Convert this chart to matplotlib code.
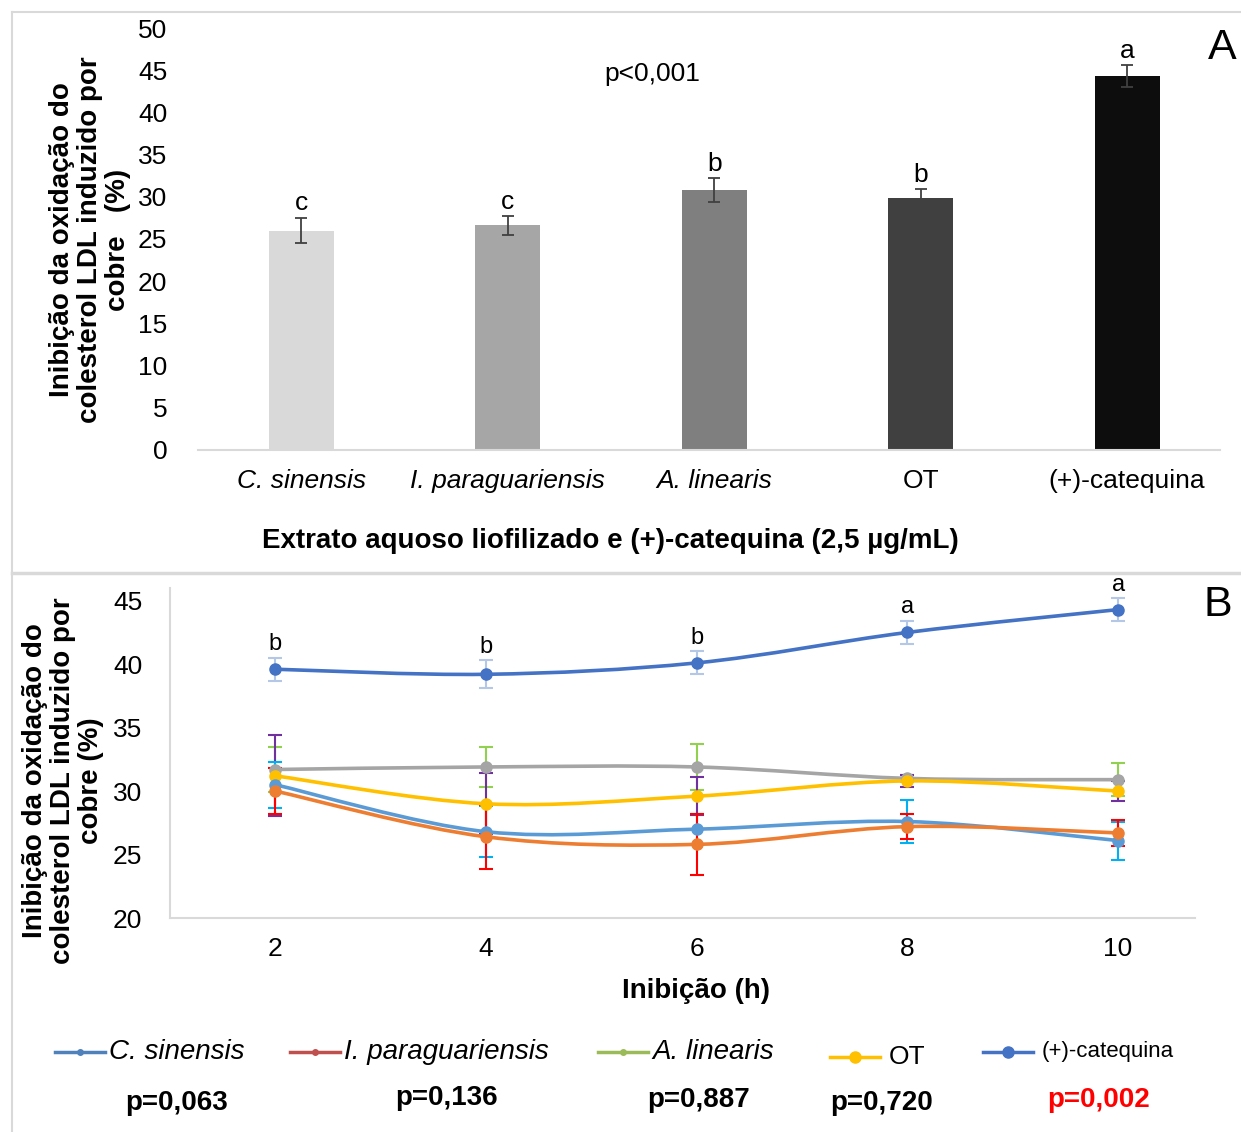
import numpy as np
import matplotlib
matplotlib.use("Agg")
import matplotlib.pyplot as plt
from matplotlib.path import Path
from matplotlib.patches import PathPatch
from matplotlib.lines import Line2D

plt.rcParams['font.family'] = ['Liberation Sans', 'DejaVu Sans']

# Panel A: inhibition at 2,5 ug/mL
categories = ['C. sinensis', 'I. paraguariensis', 'A. linearis', 'OT', '(+)-catequina']
bar_values = [26.0, 26.6, 30.8, 29.9, 44.3]
bar_errors = [1.5, 1.1, 1.4, 1.0, 1.3]
bar_letters = ['c', 'c', 'b', 'b', 'a']
bar_colors = ['#D9D9D9', '#A6A6A6', '#7F7F7F', '#404040', '#0D0D0D']

# Panel B: inhibition over time
hours = [2, 4, 6, 8, 10]
series_names = ['C. sinensis', 'I. paraguariensis', 'A. linearis', 'OT', '(+)-catequina']
series_values = {
    'C. sinensis':       [30.5, 26.8, 27.0, 27.6, 26.1],
    'I. paraguariensis': [30.0, 26.4, 25.8, 27.2, 26.7],
    'A. linearis':       [31.7, 31.9, 31.9, 31.0, 30.9],
    'OT':                [31.2, 29.0, 29.6, 30.8, 30.0],
    '(+)-catequina':     [39.6, 39.2, 40.1, 42.5, 44.3],
}
series_errors = {
    'C. sinensis':       [1.8, 2.0, 1.2, 1.7, 1.5],
    'I. paraguariensis': [1.8, 2.5, 2.4, 1.0, 1.0],
    'A. linearis':       [1.8, 1.6, 1.8, 0.3, 1.3],
    'OT':                [3.2, 2.4, 1.5, 0.5, 0.8],
    '(+)-catequina':     [0.9, 1.1, 0.9, 0.9, 0.9],
}
cat_letters = ['b', 'b', 'b', 'a', 'a']
p_values = ['p=0,063', 'p=0,136', 'p=0,887', 'p=0,720', 'p=0,002']

line_colors = {'C. sinensis': '#5B9BD5', 'I. paraguariensis': '#ED7D31',
               'A. linearis': '#A5A5A5', 'OT': '#FFC000', '(+)-catequina': '#4472C4'}
err_colors = {'C. sinensis': '#00B0F0', 'I. paraguariensis': '#FF0000',
              'A. linearis': '#92D050', 'OT': '#7030A0', '(+)-catequina': '#B4C7E7'}
legend_colors = {'C. sinensis': '#4F81BD', 'I. paraguariensis': '#C0504D',
                 'A. linearis': '#9BBB59', 'OT': '#FFC000', '(+)-catequina': '#4472C4'}


def smooth_path(x, y):
    # Catmull-Rom spline written as cubic Bezier segments
    pts = np.column_stack([x, y]).astype(float)
    n = len(pts)
    verts = [pts[0]]
    codes = [Path.MOVETO]
    for i in range(n - 1):
        p0 = pts[i - 1] if i > 0 else pts[i]
        p1 = pts[i]
        p2 = pts[i + 1]
        p3 = pts[i + 2] if i + 2 < n else pts[i + 1]
        c1 = p1 + (p2 - p0) / 6.0
        c2 = p2 - (p3 - p1) / 6.0
        verts += [c1, c2, p2]
        codes += [Path.CURVE4] * 3
    return Path(verts, codes)


W, H = 1241, 1132
fig = plt.figure(figsize=(W / 100, H / 100), dpi=100)


def fx(px):
    return px / W


def fy(py):
    return 1 - py / H


# panel frames
frame = '#D9D9D9'
fig.add_artist(Line2D([fx(12), fx(12)], [fy(12), fy(1132)], color=frame, lw=1.5))
fig.add_artist(Line2D([fx(12), fx(1241)], [fy(12), fy(12)], color=frame, lw=1.5))
fig.add_artist(Line2D([fx(12), fx(1241)], [fy(573), fy(573)], color=frame, lw=2.5))

# ---- panel A ----
axA = fig.add_axes([fx(198), fy(450), fx(1220) - fx(198), fy(28) - fy(450)])
xA = np.arange(len(categories))
axA.bar(xA, bar_values, width=0.315, color=bar_colors, zorder=2)
axA.errorbar(xA, bar_values, yerr=bar_errors, fmt='none', ecolor='#404040',
             elinewidth=1.3, capsize=4, capthick=1.3, zorder=3)
for xi, v, e, t in zip(xA, bar_values, bar_errors, bar_letters):
    axA.text(xi, v + e + 0.3, t, ha='center', va='bottom', fontsize=19)
axA.set_xlim(-0.5, 4.45)
axA.set_ylim(0, 50)
axA.set_yticks(range(0, 51, 5))
axA.set_xticks(xA)
axA.set_xticklabels(categories)
for lbl in axA.get_xticklabels():
    if lbl.get_text() not in ('OT', '(+)-catequina'):
        lbl.set_style('italic')
axA.tick_params(axis='both', length=0, labelsize=19)
axA.tick_params(axis='x', pad=14, labelsize=19)
axA.tick_params(axis='y', pad=22)
for s in ['top', 'right', 'left']:
    axA.spines[s].set_visible(False)
axA.spines['bottom'].set_color('#D9D9D9')
axA.spines['bottom'].set_linewidth(1.5)
axA.text(1.7, 44.6, 'p<0,001', ha='center', va='center', fontsize=19)
fig.text(fx(1222), fy(48), 'A', ha='center', va='center', fontsize=31)
fig.text(fx(90), fy(240), 'Inibição da oxidação do\ncolesterol LDL induzido por\ncobre   (%)',
         rotation=90, ha='center', va='center', fontsize=20, fontweight='bold',
         linespacing=1.1)
fig.text(fx(610), fy(541), 'Extrato aquoso liofilizado e (+)-catequina (2,5 µg/mL)',
         ha='center', va='center', fontsize=20, fontweight='bold')

# ---- panel B ----
axB = fig.add_axes([fx(170), fy(918), fx(1195) - fx(170), fy(588) - fy(918)])
order = ['A. linearis', 'OT', 'C. sinensis', 'I. paraguariensis', '(+)-catequina']
for name in order:
    vals = series_values[name]
    errs = series_errors[name]
    axB.errorbar(hours, vals, yerr=errs, fmt='none', ecolor=err_colors[name],
                 elinewidth=1.5, capsize=5, capthick=1.5, zorder=2)
for name in order:
    vals = series_values[name]
    axB.add_patch(PathPatch(smooth_path(hours, vals), fill=False,
                            edgecolor=line_colors[name], lw=2.6, zorder=3))
    axB.plot(hours, vals, 'o', color=line_colors[name], ms=8, zorder=4)
cat = series_values['(+)-catequina']
cat_err = series_errors['(+)-catequina']
for h, v, e, t in zip(hours, cat, cat_err, cat_letters):
    axB.text(h, v + e + 0.2, t, ha='center', va='bottom', fontsize=17)
axB.set_xlim(1, 10.73)
axB.set_ylim(20, 46)
axB.set_xticks(hours)
axB.set_yticks(range(20, 46, 5))
axB.tick_params(axis='both', length=0, labelsize=19)
axB.tick_params(axis='x', pad=14)
axB.tick_params(axis='y', pad=20)
for s in ['top', 'right']:
    axB.spines[s].set_visible(False)
for s in ['left', 'bottom']:
    axB.spines[s].set_color('#D9D9D9')
    axB.spines[s].set_linewidth(1.5)
fig.text(fx(1218), fy(605), 'B', ha='center', va='center', fontsize=31)
fig.text(fx(63), fy(781), 'Inibição da oxidação do\ncolesterol LDL induzido por\ncobre (%)',
         rotation=90, ha='center', va='center', fontsize=20, fontweight='bold',
         linespacing=1.1)
fig.text(fx(696), fy(991), 'Inibição (h)', ha='center', va='center',
         fontsize=20, fontweight='bold')

# legend row with p-values below
leg_line_x = [55, 290, 598, 830, 983]
leg_line_y = [1052, 1052, 1052, 1057, 1052]
leg_text_sizes = [20, 20, 20, 19, 16]
p_x = [177, 447, 699, 882, 1099]
p_y = [1103, 1098, 1100, 1103, 1100]
for i, name in enumerate(series_names):
    x0 = leg_line_x[i]
    y0 = leg_line_y[i]
    big = name in ('OT', '(+)-catequina')
    fig.add_artist(Line2D([fx(x0), fx(x0 + 50)], [fy(y0), fy(y0)],
                          color=legend_colors[name], lw=2.5))
    fig.add_artist(Line2D([fx(x0 + 25)], [fy(y0)], marker='o',
                          ms=8 if big else 4, color=legend_colors[name]))
    style = 'normal' if big else 'italic'
    fig.text(fx(x0 + 54 + (5 if big else 0)), fy(y0), name, ha='left', va='center',
             fontsize=leg_text_sizes[i], style=style)
    fig.text(fx(p_x[i]), fy(p_y[i]), p_values[i], ha='center', va='center',
             fontsize=20, fontweight='bold',
             color='#FF0000' if name == '(+)-catequina' else 'black')

fig.savefig('out.png', dpi=100)
